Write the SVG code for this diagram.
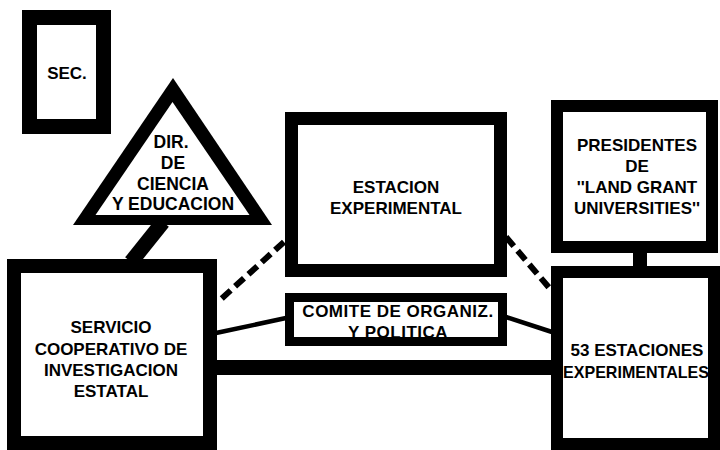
<svg xmlns="http://www.w3.org/2000/svg" width="720" height="450" viewBox="0 0 720 450">
<style>
.box{fill:#fff;stroke:#000}
.t{font-family:"Liberation Sans",Arial,sans-serif;font-weight:bold;font-size:17px;fill:#000;text-anchor:middle}
.tri{font-size:17.5px}
.thin{stroke:#000;stroke-width:4.5;fill:none}
.dash{stroke:#000;stroke-width:6;fill:none;stroke-dasharray:12 6}
</style>
<rect width="720" height="450" fill="#fff"/>
<g id="connectors">
<line x1="163" y1="222" x2="131" y2="262" stroke="#000" stroke-width="15"/>
<rect x="216" y="360" width="336" height="15" fill="#000"/>
<rect x="633" y="252" width="14" height="15" fill="#000"/>
<line class="thin" x1="216" y1="333" x2="286" y2="318"/>
<line class="thin" x1="506" y1="317" x2="552" y2="332"/>
<line class="dash" x1="284" y1="242" x2="220" y2="300"/>
<line class="dash" x1="506" y1="237" x2="551" y2="290"/>
</g>
<g id="sec">
<rect class="box" x="29.5" y="17.5" width="74" height="109" stroke-width="15"/>
<text class="t" x="67" y="79">SEC.</text>
</g>
<g id="dir">
<polygon points="173,78 73,225 272,225" fill="#000"/>
<polygon points="172.5,102 95.5,215 249.5,215" fill="#fff"/>
<text class="t tri" x="171" y="148">DIR.</text>
<text class="t tri" x="173" y="169">DE</text>
<text class="t tri" x="173" y="190">CIENCIA</text>
<text class="t tri" x="173" y="210">Y EDUCACION</text>
</g>
<g id="servicio">
<rect class="box" x="14" y="266" width="196" height="177" stroke-width="14"/>
<text class="t" x="111" y="333">SERVICIO</text>
<text class="t" x="111" y="355">COOPERATIVO DE</text>
<text class="t" x="111" y="376">INVESTIGACION</text>
<text class="t" x="111" y="397">ESTATAL</text>
</g>
<g id="estacion">
<rect class="box" x="291.5" y="118.5" width="209" height="152" stroke-width="13"/>
<text class="t" x="396" y="193">ESTACION</text>
<text class="t" x="396" y="214">EXPERIMENTAL</text>
</g>
<g id="comite">
<rect class="box" x="289.5" y="297.5" width="213" height="44" stroke-width="9"/>
<text class="t" x="398" y="317" letter-spacing="0.5">COMITE DE ORGANIZ.</text>
<text class="t" x="398" y="338" letter-spacing="0.5">Y POLITICA</text>
</g>
<g id="presidentes">
<rect class="box" x="557" y="106" width="155" height="141" stroke-width="12"/>
<text class="t" x="637" y="151">PRESIDENTES</text>
<text class="t" x="637" y="172">DE</text>
<text class="t" x="637" y="193">''LAND GRANT</text>
<text class="t" x="637" y="214">UNIVERSITIES''</text>
</g>
<g id="estaciones53">
<rect class="box" x="557" y="272" width="157" height="172" stroke-width="12"/>
<text class="t" x="637" y="356">53 ESTACIONES</text>
<text class="t" x="636" y="378" textLength="146" lengthAdjust="spacingAndGlyphs">EXPERIMENTALES</text>
</g>
</svg>
